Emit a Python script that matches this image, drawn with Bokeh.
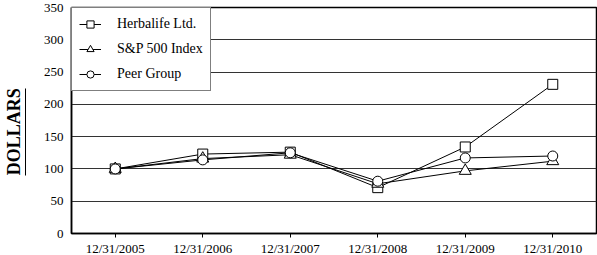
from bokeh.plotting import figure
from bokeh.models import FixedTicker, Legend, LegendItem, LinearAxis, Range1d
from bokeh.embed import file_html
from bokeh.resources import INLINE

categories = ["12/31/2005", "12/31/2006", "12/31/2007", "12/31/2008", "12/31/2009", "12/31/2010"]
herbalife = [100, 123, 126, 71, 134, 231]
sp500 = [100, 116, 122, 77, 97, 112]
peer = [100, 114, 125, 81, 117, 120]
y_ticks = [0, 50, 100, 150, 200, 250, 300, 350]

FONT = "'Liberation Serif', 'Times New Roman', serif"

p = figure(frame_width=525, frame_height=226, x_range=categories, y_range=Range1d(0, 350),
           output_backend="svg", toolbar_location=None,
           min_border_left=71, min_border_right=1, min_border_top=7, min_border_bottom=22)
p.background_fill_color = "white"
p.border_fill_color = "white"
p.outline_line_color = "black"
p.outline_line_width = 1.5

p.xgrid.grid_line_color = None
p.ygrid.grid_line_color = "#333333"
p.ygrid.grid_line_width = 1.2
p.ygrid.ticker = FixedTicker(ticks=y_ticks)
p.yaxis.ticker = FixedTicker(ticks=y_ticks)

for ax in (p.xaxis[0], p.yaxis[0]):
    ax.axis_line_color = "black"
    ax.axis_line_width = 1.5
    ax.major_label_text_font = FONT
    ax.major_label_text_font_size = "13px"
    ax.major_label_text_color = "black"
    ax.minor_tick_line_color = None
p.yaxis.major_tick_line_color = None
p.yaxis.major_tick_out = 0
p.yaxis.major_tick_in = 0
p.yaxis.major_label_standoff = 8
p.yaxis.axis_label = "\u00a0"
p.yaxis.axis_label_text_font_size = "9px"
p.yaxis.axis_label_standoff = 2
p.xaxis.major_tick_line_color = "black"
p.xaxis.major_tick_out = 4
p.xaxis.major_tick_in = 0
p.xaxis.major_label_standoff = 3

# outer axis: carries the "DOLLARS" title, its axis line acts as the underline
title_axis = LinearAxis(ticker=FixedTicker(ticks=[]), bounds=(90, 225))
title_axis.axis_label = "DOLLARS" + "\u00a0" * 5
title_axis.axis_label_text_font = FONT
title_axis.axis_label_text_font_size = "18px"
title_axis.axis_label_text_font_style = "bold"
title_axis.axis_label_text_color = "black"
title_axis.axis_label_standoff = 2
title_axis.axis_line_color = "black"
title_axis.axis_line_width = 1
title_axis.major_tick_line_color = None
title_axis.minor_tick_line_color = None
title_axis.major_tick_out = 0
title_axis.major_tick_in = 0
title_axis.major_label_standoff = 0
p.add_layout(title_axis, "left")

r1l = p.line(categories, herbalife, line_color="black", line_width=1)
r1m = p.scatter(categories, herbalife, marker="square", size=10, fill_color="white", line_color="black")
r2l = p.line(categories, sp500, line_color="black", line_width=1)
r2m = p.scatter(categories, sp500, marker="triangle", size=12, fill_color="white", line_color="black")
r3l = p.line(categories, peer, line_color="black", line_width=1)
r3m = p.scatter(categories, peer, marker="circle", size=10, fill_color="white", line_color="black")

legend = Legend(items=[
    LegendItem(label="Herbalife Ltd.", renderers=[r1l, r1m]),
    LegendItem(label="S&P 500 Index", renderers=[r2l, r2m]),
    LegendItem(label="Peer Group", renderers=[r3l, r3m]),
], location="top_left")
legend.margin = 0
legend.padding = 7
legend.spacing = 7
legend.glyph_height = 18
legend.glyph_width = 22
legend.label_standoff = 16
legend.label_text_font = FONT
legend.label_text_font_size = "14px"
legend.label_text_color = "black"
legend.border_line_color = "black"
legend.border_line_width = 1
legend.background_fill_color = "white"
legend.background_fill_alpha = 1
p.add_layout(legend)

open("out.html", "w").write(file_html(p, INLINE))
